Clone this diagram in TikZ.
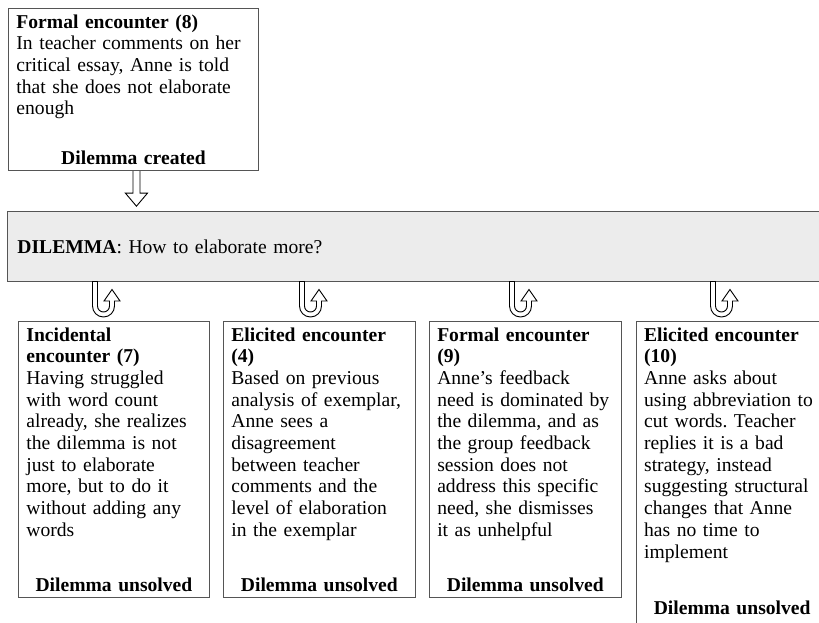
\documentclass[tikz,border=0pt]{standalone}
\usepackage{fontspec}
\setmainfont{Liberation Serif}
\usetikzlibrary{positioning}
\frenchspacing

\definecolor{frame}{HTML}{555555}
\definecolor{dilfill}{HTML}{ECECEC}

\tikzset{
  x=1pt, y=1pt,
  every node/.style={font=\fontsize{19.6}{21.7}\selectfont},
  encbox/.style={draw=frame, line width=0.9pt, fill=white, anchor=north west,
    text width=#1, align=left, inner xsep=8pt, inner ysep=6pt},
  dilbox/.style={draw=frame, line width=0.9pt, fill=dilfill, anchor=north west,
    text width=820pt, align=left, inner xsep=10pt, minimum height=70pt},
  hollow/.style={draw=black, line width=0.9pt, fill=white},
  uturn/.pic={
    \draw[hollow] (-2.5,0) -- (-2.5,-24.5) arc (180:360:11) -- (19.5,-19.5)
      -- (25,-19.5) -- (17,-8) -- (9,-19.5) -- (14.5,-19.5)
      -- (14.5,-24.5) arc (360:180:6) -- (2.5,0) -- cycle;
  }
}

\begin{document}
\begin{tikzpicture}
\useasboundingbox (0,0) rectangle (819,-622);
\clip (0,0) rectangle (819,-622);

\node[encbox=234pt] (top) at (8,-8) {\textbf{Formal encounter (8)}\\
  In teacher comments on her\\ critical essay, Anne is told\\
  that she does not elaborate\\ enough\par\vspace{28pt}
  {\centering\textbf{Dilemma created}\par}};

\node[dilbox] (dil) at (7,-211) {\textbf{DILEMMA}: How to elaborate more?};

% encounters below the dilemma
\node[encbox=175pt] (enc7) at (18,-321) {\textbf{Incidental}\\
  \textbf{encounter (7)}\\ Having struggled\\ with word count\\
  already, she realizes\\ the dilemma is not\\ just to elaborate\\
  more, but to do it\\ without adding any\\ words\par\vspace{33pt}
  {\centering\textbf{Dilemma unsolved}\par}};
\node[encbox=176pt, right=13pt of enc7.north east, anchor=north west] (enc4)
  {\textbf{Elicited encounter}\\ \textbf{(4)}\\ Based on previous\\
  analysis of exemplar,\\ Anne sees a\\ disagreement\\ between teacher\\
  comments and the\\ level of elaboration\\ in the exemplar\par\vspace{33pt}
  {\centering\textbf{Dilemma unsolved}\par}};
\node[encbox=176pt, right=13pt of enc4.north east, anchor=north west] (enc9)
  {\textbf{Formal encounter}\\ \textbf{(9)}\\ Anne’s feedback\\
  need is dominated by\\ the dilemma, and as\\ the group feedback\\
  session does not\\ address this specific\\ need, she dismisses\\
  it as unhelpful\par\vspace{33pt}
  {\centering\textbf{Dilemma unsolved}\par}};
\node[encbox=176pt, right=14pt of enc9.north east, anchor=north west] (enc10)
  {\textbf{Elicited encounter}\\ \textbf{(10)}\\ Anne asks about\\
  using abbreviation to\\ cut words. Teacher\\ replies it is a bad\\
  strategy, instead\\ suggesting structural\\ changes that Anne\\
  has no time to\\ implement\par\vspace{35pt}
  {\centering\textbf{Dilemma unsolved}\par}\vspace{10pt}\hbox{}};

% arrows
\draw[hollow] ([xshift=-0.5pt]top.south) -- ++(0,-22) -- ++(-7.5,0)
  -- ++(11,-13) -- ++(11,13) -- ++(-7.5,0) -- ++(0,22);
\pic at (95,-281.5) {uturn};
\pic at (302,-281.5) {uturn};
\pic at (512,-281.5) {uturn};
\pic at (713,-281.5) {uturn};
\end{tikzpicture}
\end{document}
